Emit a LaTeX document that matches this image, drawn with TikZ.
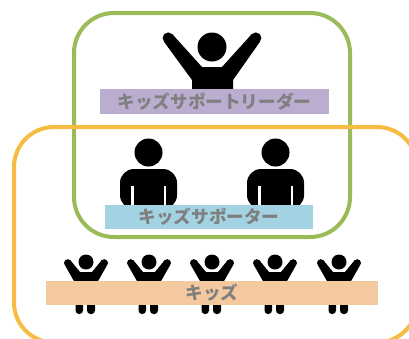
\documentclass[tikz,border=0pt]{standalone}
\usepackage{fontspec}
\newfontfamily\cjk{Noto Sans CJK JP}
\definecolor{grn}{HTML}{9BBB59}
\definecolor{org}{HTML}{F6BC41}
\definecolor{pur}{HTML}{BBADCF}
\definecolor{blu}{HTML}{A3D3E3}
\definecolor{pch}{HTML}{F5C9A0}
\definecolor{txt}{HTML}{7F7F7F}
\tikzset{
  frame/.style={line width=4pt,rounded corners=40pt},
  bar/.style={anchor=north west,inner sep=0pt,outer sep=0pt,align=center,text=txt,
    font=\cjk\bfseries\fontsize{17.6}{20}\selectfont},
  kidleg/.style={fill=black,rounded corners=3.5pt},
  sitter/.pic={
    \fill (0,-16.5) circle (14);
    \fill[rounded corners=14pt] (-28.5,40) -- (-28.5,0) -- (28.5,0) -- (28.5,40) -- cycle;
    \fill[white] (-17.5,17) rectangle (-15,36);
    \fill[white] (15,17) rectangle (17.5,36);
  },
  kid/.pic={
    \fill (0,0) circle (7.5);
    \fill (-18.2,1) circle (3.8);
    \fill (18.2,1) circle (3.8);
    \fill (-15.6,-1.7) -- (-6,10) -- (6,10) -- (15.6,-1.7) -- (20.8,3.7) -- (11.5,20) -- (-11.5,20) -- (-20.8,3.7) -- cycle;
    \fill[kidleg] (-10.5,40) rectangle (-3,52);
    \fill[kidleg] (1,40) rectangle (9,52);
  }
}
\begin{document}
\begin{tikzpicture}[x=1pt,y=-1pt]
\useasboundingbox (0,0) rectangle (409,338);
\clip (0,0) rectangle (409,338);
\draw[frame,grn] (74,13) rectangle (350,237);
\draw[frame,org] (14,127) rectangle (417,342.5);
% leader
\fill (212,47) circle (14.5);
\fill (168.2,38) circle (5.6);
\fill (255.8,38) circle (5.6);
\fill (172,33.8) -- (202,67) -- (222,67) -- (252,33.8) -- (259.8,42) -- (233,80) -- (233,90) -- (192,90) -- (192,80) -- (164.2,42) -- cycle;
% supporters
\pic at (148.5,169) {sitter};
\pic at (275.5,169) {sitter};
% kids
\pic at (86,262) {kid};
\pic at (149,262) {kid};
\pic at (212,262) {kid};
\pic at (275,262) {kid};
\pic at (339,262) {kid};
% bars
\node[bar,fill=pur,minimum width=229pt,minimum height=25pt] (leader) at (100,89) {キッズサポートリーダー};
\node[bar,fill=blu,minimum width=208pt,minimum height=24pt] (supporter) at (105,205) {キッズサポーター};
\node[bar,fill=pch,minimum width=332pt,minimum height=24pt] (kids) at (46,281) {キッズ};
\end{tikzpicture}
\end{document}
